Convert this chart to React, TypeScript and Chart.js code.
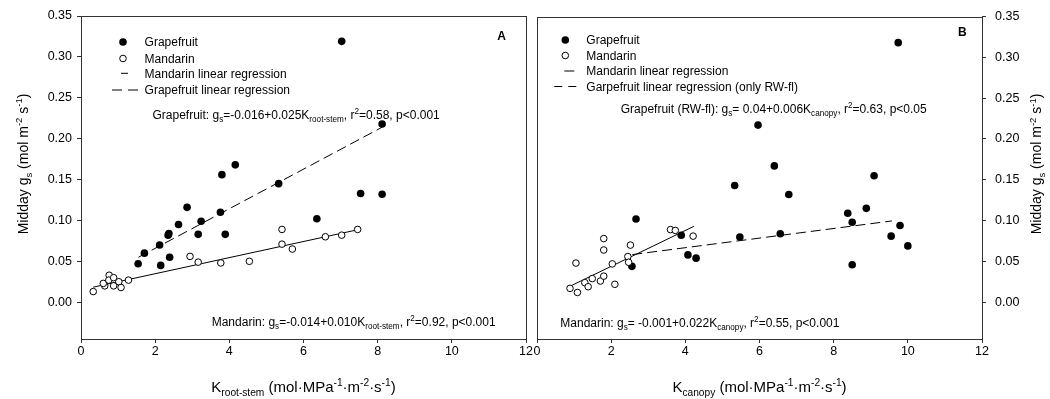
import React, { useEffect, useRef } from "react";
import { Chart, registerables } from "chart.js";

Chart.register(...registerables);

// ---------- data ----------
const xTickValues = [0, 2, 4, 6, 8, 10, 12];
const yTickValues = [0.0, 0.05, 0.1, 0.15, 0.2, 0.25, 0.3, 0.35];

// Panel A: K root-stem
const grapefruitRootStemK = [1.54, 1.71, 2.15, 2.12, 2.39, 2.35, 2.37, 2.63, 2.86, 3.16, 3.24, 3.76, 3.8, 4.16, 3.89, 5.33, 6.36, 7.03, 8.12, 7.54, 8.12];
const grapefruitRootStemGs = [0.047, 0.06, 0.045, 0.07, 0.055, 0.082, 0.084, 0.095, 0.116, 0.083, 0.099, 0.11, 0.156, 0.168, 0.083, 0.145, 0.102, 0.319, 0.218, 0.133, 0.132];
const mandarinRootStemK = [0.33, 0.64, 0.6, 0.76, 0.75, 0.88, 0.88, 1.02, 1.08, 1.28, 2.94, 3.16, 3.77, 4.54, 5.42, 5.42, 5.7, 6.59, 7.03, 7.46];
const mandarinRootStemGs = [0.013, 0.02, 0.023, 0.033, 0.027, 0.03, 0.02, 0.025, 0.018, 0.027, 0.056, 0.049, 0.048, 0.05, 0.089, 0.071, 0.065, 0.08, 0.082, 0.089];
const mandarinFitA_K = [0.33, 7.46];
const mandarinFitA_Gs = [0.0184, 0.0886];
const grapefruitFitA_K = [1.55, 8.12];
const grapefruitFitA_Gs = [0.055, 0.214];

// Panel B: K canopy
const grapefruitCanopyK = [2.67, 2.56, 3.89, 4.07, 4.29, 5.33, 5.47, 5.96, 6.4, 6.79, 6.56, 8.38, 8.5, 8.88, 9.09, 8.5, 9.55, 9.79, 10.0, 9.74];
const grapefruitCanopyGs = [0.102, 0.044, 0.082, 0.058, 0.054, 0.143, 0.08, 0.217, 0.167, 0.132, 0.084, 0.109, 0.098, 0.115, 0.155, 0.046, 0.081, 0.094, 0.069, 0.318];
const mandarinCanopyK = [0.89, 1.09, 1.05, 1.29, 1.38, 1.49, 1.71, 1.8, 1.8, 1.8, 2.1, 2.03, 2.45, 2.47, 2.52, 3.6, 3.73, 4.21];
const mandarinCanopyGs = [0.017, 0.012, 0.048, 0.024, 0.019, 0.029, 0.026, 0.032, 0.078, 0.064, 0.022, 0.047, 0.056, 0.049, 0.07, 0.089, 0.088, 0.081];
const mandarinFitB_K = [0.89, 4.23];
const mandarinFitB_Gs = [0.0196, 0.093];
const grapefruitFitB_K = [2.57, 9.57];
const grapefruitFitB_Gs = [0.0584, 0.0996];

const legendLabelsA = ["Grapefruit", "Mandarin", "Mandarin linear regression", "Grapefruit linear regression"];
const legendLabelsB = ["Grapefruit", "Mandarin", "Mandarin linear regression", "Garpefruit linear regression (only RW-fl)"];

// ---------- helpers ----------
const FF = "'Liberation Sans', Arial, Helvetica, sans-serif";
const AXIS = "#333";

const pts = (xs: number[], ys: number[]) => xs.map((x, i) => ({ x, y: ys[i] }));

type Seg = [string, "n" | "b" | "p"];

function richWidth(ctx: CanvasRenderingContext2D, segs: Seg[], size: number) {
  let w = 0;
  for (const [t, k] of segs) {
    ctx.font = `${k === "n" ? size : size * 0.68}px ${FF}`;
    w += ctx.measureText(t).width;
  }
  return w;
}

function drawRich(ctx: CanvasRenderingContext2D, segs: Seg[], x: number, y: number, size: number, center = false) {
  let cx = center ? x - richWidth(ctx, segs, size) / 2 : x;
  ctx.textBaseline = "alphabetic";
  ctx.textAlign = "left";
  for (const [t, k] of segs) {
    const fs = k === "n" ? size : size * 0.68;
    ctx.font = `${fs}px ${FF}`;
    const dy = k === "b" ? size * 0.28 : k === "p" ? -size * 0.42 : 0;
    ctx.fillText(t, cx, y + dy);
    cx += ctx.measureText(t).width;
  }
}

function drawRotated(ctx: CanvasRenderingContext2D, segs: Seg[], cx: number, cy: number, size: number) {
  ctx.save();
  ctx.translate(cx + size * 0.36, cy);
  ctx.rotate(-Math.PI / 2);
  drawRich(ctx, segs, 0, 0, size, true);
  ctx.restore();
}

function frame(ctx: CanvasRenderingContext2D, ca: any) {
  ctx.save();
  ctx.strokeStyle = AXIS;
  ctx.lineWidth = 1;
  const l = Math.round(ca.left) + 0.5;
  const t = Math.round(ca.top) + 0.5;
  const r = Math.round(ca.right) + 0.5;
  const b = Math.round(ca.bottom) + 0.5;
  ctx.strokeRect(l, t, r - l, b - t);
  ctx.restore();
}

function legend(ctx: CanvasRenderingContext2D, ca: any, labels: string[], rows: number[], mx: number, tx: number, solid: [number, number], dashes: [number, number][]) {
  ctx.save();
  ctx.fillStyle = "#000";
  ctx.strokeStyle = "#000";
  ctx.lineWidth = 1;
  ctx.beginPath();
  ctx.arc(ca.left + mx, ca.top + rows[0], 3.8, 0, Math.PI * 2);
  ctx.fill();
  ctx.beginPath();
  ctx.arc(ca.left + mx, ca.top + rows[1], 3.3, 0, Math.PI * 2);
  ctx.fillStyle = "#fff";
  ctx.fill();
  ctx.stroke();
  ctx.fillStyle = "#000";
  ctx.beginPath();
  ctx.moveTo(ca.left + solid[0], ca.top + rows[2]);
  ctx.lineTo(ca.left + solid[1], ca.top + rows[2]);
  ctx.stroke();
  for (const d of dashes) {
    ctx.beginPath();
    ctx.moveTo(ca.left + d[0], ca.top + rows[3]);
    ctx.lineTo(ca.left + d[1], ca.top + rows[3]);
    ctx.stroke();
  }
  ctx.font = `12px ${FF}`;
  ctx.textAlign = "left";
  ctx.textBaseline = "alphabetic";
  labels.forEach((l, i) => ctx.fillText(l, ca.left + tx, ca.top + rows[i] + 4.3));
  ctx.restore();
}

const yTitle: Seg[] = [["Midday g", "n"], ["s", "b"], [" (mol m", "n"], ["-2", "p"], [" s", "n"], ["-1", "p"], [")", "n"]];
const unitsTail: Seg[] = [[" (mol·MPa", "n"], ["-1", "p"], ["·m", "n"], ["-2", "p"], ["·s", "n"], ["-1", "p"], [")", "n"]];

const decorA = {
  id: "decorA",
  afterDraw(chart: any) {
    const ctx = chart.ctx as CanvasRenderingContext2D;
    const ca = chart.chartArea;
    frame(ctx, ca);
    legend(ctx, ca, legendLabelsA, [26, 42.5, 57.3, 74], 42, 63.6, [40, 47], [[31, 41], [47, 57]]);
    ctx.save();
    ctx.fillStyle = "#000";
    drawRich(ctx, [["Grapefruit: g", "n"], ["s", "b"], ["=-0.016+0.025K", "n"], ["root-stem", "b"], [", r", "n"], ["2", "p"], ["=0.58, p<0.001", "n"]], ca.left + 71.5, ca.top + 102.6, 12);
    drawRich(ctx, [["Mandarin: g", "n"], ["s", "b"], ["=-0.014+0.010K", "n"], ["root-stem", "b"], [", r", "n"], ["2", "p"], ["=0.92, p<0.001", "n"]], ca.left + 130.7, ca.bottom - 13, 12);
    ctx.font = `bold 12px ${FF}`;
    ctx.textAlign = "center";
    ctx.fillText("A", ca.right - 24.3, ca.top + 24);
    drawRich(ctx, [["K", "n"], ["root-stem", "b"], ...unitsTail], (ca.left + ca.right) / 2, ca.bottom + 53, 15, true);
    drawRotated(ctx, yTitle, ca.left - 58, 164, 14);
    ctx.restore();
  },
};

const decorB = {
  id: "decorB",
  afterDraw(chart: any) {
    const ctx = chart.ctx as CanvasRenderingContext2D;
    const ca = chart.chartArea;
    frame(ctx, ca);
    legend(ctx, ca, legendLabelsB, [23.5, 39, 54.5, 70], 28.3, 49.3, [27.3, 37.3], [[17.3, 25.3], [31.3, 39.3]]);
    ctx.save();
    ctx.fillStyle = "#000";
    drawRich(ctx, [["Grapefruit (RW-fl): g", "n"], ["s", "b"], ["= 0.04+0.006K", "n"], ["canopy", "b"], [", r", "n"], ["2", "p"], ["=0.63, p<0.05", "n"]], ca.left + 83.7, ca.top + 96.5, 12);
    drawRich(ctx, [["Mandarin: g", "n"], ["s", "b"], ["= -0.001+0.022K", "n"], ["canopy", "b"], [", r", "n"], ["2", "p"], ["=0.55, p<0.001", "n"]], ca.left + 23.3, ca.bottom - 12, 12);
    ctx.font = `bold 12px ${FF}`;
    ctx.textAlign = "center";
    ctx.fillText("B", ca.right - 19.6, ca.top + 19.3);
    drawRich(ctx, [["K", "n"], ["canopy", "b"], ...unitsTail], (ca.left + ca.right) / 2, ca.bottom + 53, 15, true);
    drawRotated(ctx, yTitle, ca.right + 54.4, 164, 14);
    ctx.restore();
  },
};

function makeConfig(
  gK: number[], gG: number[], mK: number[], mG: number[],
  mfK: number[], mfG: number[], gfK: number[], gfG: number[],
  side: "left" | "right", padding: any, yWidth: number, yPad: number, plugin: any
): any {
  return {
    type: "scatter",
    data: {
      datasets: [
        { label: "Grapefruit", data: pts(gK, gG), pointRadius: 3.8, pointBackgroundColor: "#000", pointBorderColor: "#000", pointBorderWidth: 0, order: 1 },
        { label: "Mandarin", data: pts(mK, mG), pointRadius: 3.3, pointBackgroundColor: "#fff", pointBorderColor: "#000", pointBorderWidth: 1, order: 0 },
        { label: "Mandarin linear regression", data: pts(mfK, mfG), showLine: true, pointRadius: 0, borderColor: "#000", borderWidth: 1, order: 3 },
        { label: "Grapefruit linear regression", data: pts(gfK, gfG), showLine: true, pointRadius: 0, borderColor: "#000", borderWidth: 1, borderDash: [10, 5], order: 3 },
      ],
    },
    options: {
      responsive: false,
      animation: false,
      devicePixelRatio: 1,
      layout: { padding },
      plugins: { legend: { display: false }, tooltip: { enabled: false } },
      scales: {
        x: {
          type: "linear",
          min: 0,
          max: 12,
          afterBuildTicks: (s: any) => { s.ticks = xTickValues.map((v) => ({ value: v })); },
          afterFit: (s: any) => { s.height = 60; },
          ticks: { color: "#000", font: { family: FF, size: 12.5 }, padding: 1, maxRotation: 0 },
          grid: { display: true, drawOnChartArea: false, drawTicks: true, tickLength: 4, color: AXIS },
          border: { display: false },
        },
        y: {
          type: "linear",
          position: side,
          min: -0.045,
          max: 0.35,
          afterBuildTicks: (s: any) => { s.ticks = yTickValues.map((v) => ({ value: v })); },
          afterFit: (s: any) => { s.width = yWidth; },
          ticks: { color: "#000", font: { family: FF, size: 12.5 }, padding: yPad, callback: (v: number) => v.toFixed(2) },
          grid: { display: true, drawOnChartArea: false, drawTicks: true, tickLength: 4, color: AXIS },
          border: { display: false },
        },
      },
    },
    plugins: [plugin],
  };
}

export default function App() {
  const refA = useRef<HTMLCanvasElement>(null);
  const refB = useRef<HTMLCanvasElement>(null);
  useEffect(() => {
    const a = new Chart(
      refA.current as HTMLCanvasElement,
      makeConfig(grapefruitRootStemK, grapefruitRootStemGs, mandarinRootStemK, mandarinRootStemGs,
        mandarinFitA_K, mandarinFitA_Gs, grapefruitFitA_K, grapefruitFitA_Gs,
        "left", { top: 16, left: 0, right: 34, bottom: 0 }, 81, 5, decorA)
    );
    const b = new Chart(
      refB.current as HTMLCanvasElement,
      makeConfig(grapefruitCanopyK, grapefruitCanopyGs, mandarinCanopyK, mandarinCanopyGs,
        mandarinFitB_K, mandarinFitB_Gs, grapefruitFitB_K, grapefruitFitB_Gs,
        "right", { top: 16, left: 17, right: 0, bottom: 0 }, 68, 9, decorB)
    );
    return () => { a.destroy(); b.destroy(); };
  }, []);
  return (
    <div style={{ position: "fixed", left: 0, top: 0, width: 1050, height: 399, background: "#fff", overflow: "hidden" }}>
      <canvas ref={refA} width={560} height={399} style={{ position: "absolute", left: 0, top: 0, width: 560, height: 399 }} />
      <canvas ref={refB} width={530} height={399} style={{ position: "absolute", left: 520, top: 0, width: 530, height: 399 }} />
    </div>
  );
}
